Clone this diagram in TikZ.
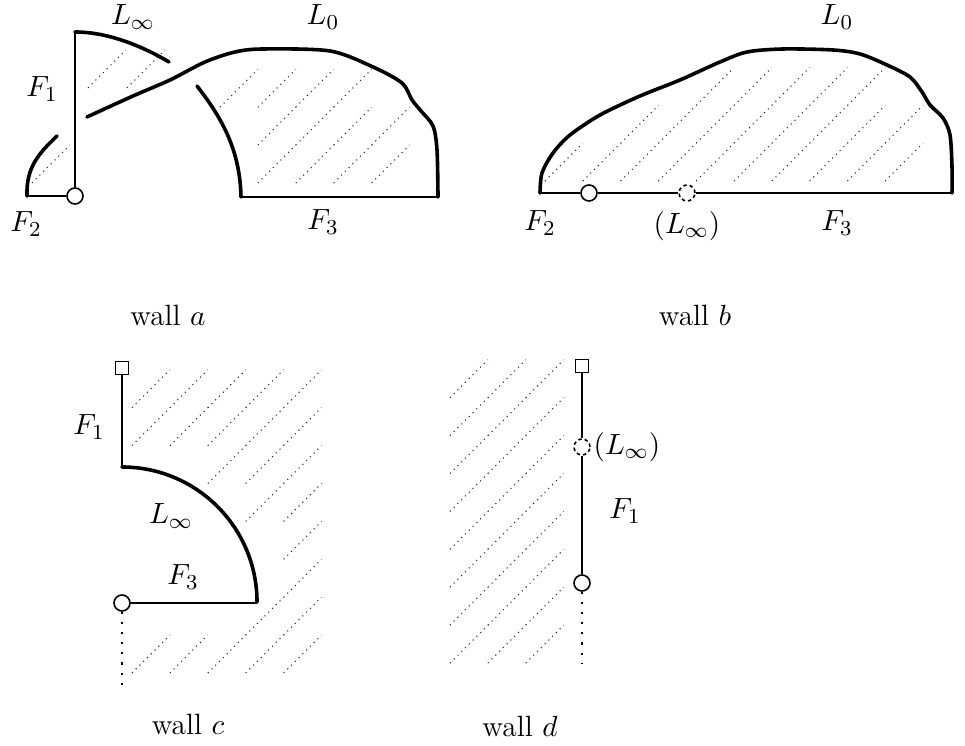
\documentclass[tikz,border=0pt]{standalone}
\usepackage{tikz}

\begin{document}
\begin{tikzpicture}[
  x=0.375pt, y=-0.375pt,
  every node/.style={font=\fontsize{11}{13}\selectfont},
  wallcurve/.style={line width=1.35pt, line cap=round},
  edgeline/.style={line width=0.8pt},
  hatch/.style={line width=0.4pt, dash pattern=on 0.4pt off 1.6pt, black!85},
  tail/.style={line width=0.8pt, dash pattern=on 0.8pt off 3pt},
  vertex/.style={circle, draw, fill=white, inner sep=0pt, minimum size=6pt, line width=0.6pt},
  ghost/.style={vertex, dash pattern=on 1.3pt off 1.1pt},
  corner/.style={rectangle, draw, fill=white, inner sep=0pt, minimum size=4.9pt, line width=0.6pt}
]
\useasboundingbox (0,0) rectangle (965,746);

% wall a
\foreach \x/\y in {88/88, 127/88, 32/183}
  \draw[hatch] (\x,\y) -- ++(37.9,-37.9);
\foreach \i/\j in {1/0,2/0,3/0,4/0, 1/1,2/1,3/1,4/1, 0/2,1/2,2/2,3/2}
  \draw[hatch] ({220+37.9*\i},{183-37.9*\j}) -- ++(37.9,-37.9);
\node[vertex] (a-o) at (75,196) {};
\coordinate (a-top) at (75,32);
\coordinate (a-left) at (27,196);
\coordinate (a-in) at (241,197);
\coordinate (a-right) at (438,197);
\draw[edgeline] (a-o) -- (a-top);
\draw[edgeline] (a-left) -- (a-o);
\draw[edgeline] (a-in) -- (a-right);
\draw[wallcurve] (a-left) .. controls (26,168) and (38,154) .. (57,136);
\draw[wallcurve] (a-top) .. controls (108,32) and (142,46) .. (169,62);
\draw[wallcurve] plot[smooth, tension=0.5] coordinates {(87,117) (133,96) (170,80) (205,62)
  (235,52) (263,49) (330,51) (373,67) (402,83) (412,100) (421,111) (433,126) (437,150) (a-right)};
\draw[wallcurve] (197,86) .. controls (222,118) and (240,150) .. (a-in);
\node (a-linf) at (133,17) {$L_\infty$};
\node (a-lzero) at (323,17) {$L_0$};
\node (a-fone) at (42,89) {$F_1$};
\node (a-ftwo) at (26,224) {$F_2$};
\node (a-fthree) at (323,222) {$F_3$};
\node (a-name) at (168,315) {wall $a$};

% wall b
\foreach \i/\j in {0/0,1/0,2/0,3/0,4/0,5/0,6/0,7/0,8/0,9/0,
                   2/1,3/1,4/1,5/1,6/1,7/1,8/1,9/1, 4/2,5/2,6/2,7/2,8/2}
  \draw[hatch] ({545+37.8*\i},{181-37.8*\j}) -- ++(37.8,-37.8);
\coordinate (b-left) at (540,193);
\coordinate (b-right) at (952,193);
\node[vertex] (b-o) at (589,193) {};
\node[ghost] (b-g) at (687,193) {};
\draw[edgeline] (b-left) -- (b-o) -- (b-g) -- (b-right);
\draw[wallcurve] plot[smooth, tension=0.5] coordinates {(b-left) (542,173) (553,153) (570,135)
  (600,115) (640,96) (680,80) (720,62) (747,52) (783,49) (833,50) (860,54) (887,65) (910,77)
  (922,92) (930,105) (943,118) (950,135) (952,167) (b-right)};
\node (b-lzero) at (837,17) {$L_0$};
\node (b-ftwo) at (540,223) {$F_2$};
\node (b-linf) at (687,226) {$(L_\infty)$};
\node (b-fthree) at (837,223) {$F_3$};
\node (b-name) at (695,315) {wall $b$};

% wall c
\foreach \i/\j in {0/0,1/0,2/0,3/0,4/0, 3/1,4/1, 4/2, 4/3, 3/4,4/4, 2/5,3/5,4/5,
                   0/6,1/6,2/6,3/6,4/6, 0/7,1/7,2/7,3/7,4/7}
  \draw[hatch] ({132+37.9*\i},{673-37.9*\j}) -- ++(37.9,-37.9);
\node[corner] (c-sq) at (122,368) {};
\coordinate (c-arc) at (122,467);
\coordinate (c-end) at (257,603);
\node[vertex] (c-o) at (122,603) {};
\coordinate (c-tail) at (122,685);
\draw[edgeline] (c-sq) -- (c-arc);
\draw[wallcurve] (c-arc) arc[start angle=-90, end angle=0, radius=135];
\draw[edgeline] (c-end) -- (c-o);
\draw[tail] (c-o) -- (c-tail);
\node (c-fone) at (89,427) {$F_1$};
\node (c-linf) at (171,516) {$L_\infty$};
\node (c-fthree) at (183,577) {$F_3$};
\node (c-name) at (188,724) {wall $c$};

% wall d
\foreach \i in {0,1,2}
  \foreach \j in {0,...,7}
    \draw[hatch] ({450+37.9*\i},{663-37.9*\j}) -- ++(37.9,-37.9);
\node[corner] (d-sq) at (582,366) {};
\node[ghost] (d-g) at (582,447) {};
\node[vertex] (d-o) at (582,583) {};
\coordinate (d-tail) at (582,663);
\draw[edgeline] (d-sq) -- (d-g) -- (d-o);
\draw[tail] (d-o) -- (d-tail);
\node (d-linf) at (627,447) {$(L_\infty)$};
\node (d-fone) at (625,511) {$F_1$};
\node (d-name) at (520,726) {wall $d$};
\end{tikzpicture}
\end{document}
